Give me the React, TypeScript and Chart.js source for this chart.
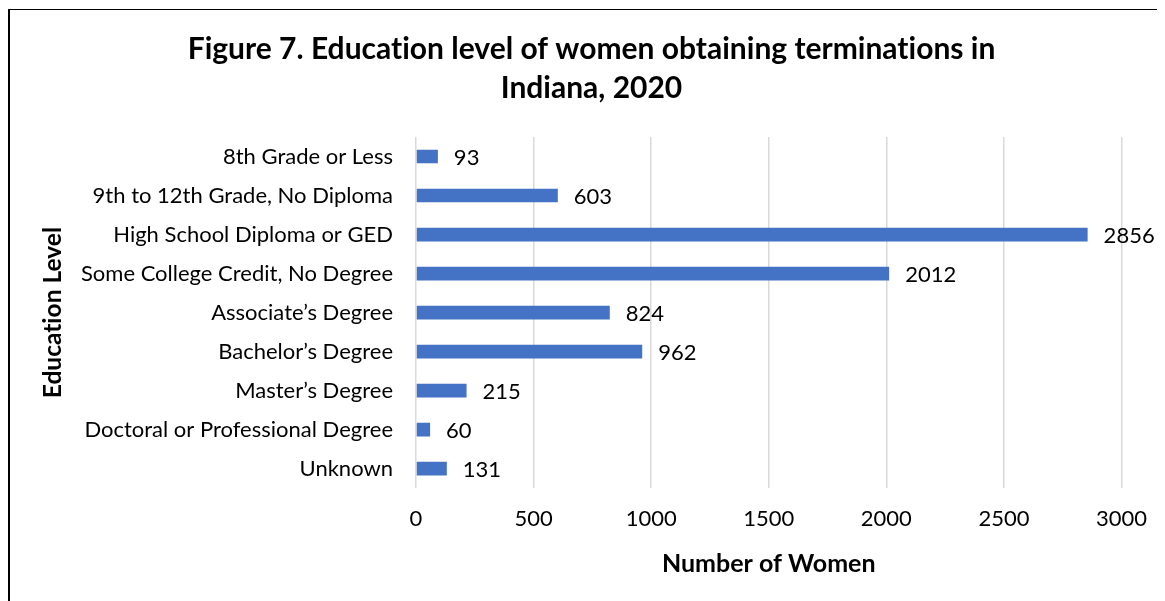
import React, { useEffect, useRef } from "react";
import { Chart, registerables } from "chart.js";

Chart.register(...registerables);

const categories = [
  "8th Grade or Less",
  "9th to 12th Grade, No Diploma",
  "High School Diploma or GED",
  "Some College Credit, No Degree",
  "Associate’s Degree",
  "Bachelor’s Degree",
  "Master’s Degree",
  "Doctoral or Professional Degree",
  "Unknown",
];
const womenCounts = [93, 603, 2856, 2012, 824, 962, 215, 60, 131];
const titleLines = [
  "Figure 7. Education level of women obtaining terminations in",
  "Indiana, 2020",
];
const xAxisTitle = "Number of Women";
const yAxisTitle = "Education Level";

const FONT = "Lato, 'Open Sans', sans-serif";

const noLigatures = {
  id: "noLigatures",
  beforeDraw(chart: any) {
    const ctx = chart.ctx as any;
    ctx.textRendering = "optimizeSpeed";
  },
};

const valueLabels = {
  id: "valueLabels",
  afterDatasetsDraw(chart: any) {
    const ctx = chart.ctx;
    const meta = chart.getDatasetMeta(0);
    ctx.save();
    ctx.font = `22px ${FONT}`;
    ctx.fillStyle = "#000";
    ctx.textAlign = "left";
    ctx.textBaseline = "middle";
    meta.data.forEach((bar: any, i: number) => {
      const v = chart.data.datasets[0].data[i];
      ctx.fillText(String(v), bar.x + 16, bar.y + 1);
    });
    ctx.restore();
  },
};

export default function App() {
  const ref = useRef<HTMLCanvasElement | null>(null);
  useEffect(() => {
    if (!ref.current) return;
    const chart = new Chart(ref.current, {
      type: "bar",
      data: {
        labels: categories,
        datasets: [
          {
            data: womenCounts,
            backgroundColor: "#4472C4",
            borderWidth: 0,
            barPercentage: 0.35,
            categoryPercentage: 1,
          },
        ],
      },
      options: {
        indexAxis: "y",
        responsive: false,
        animation: false,
        layout: { padding: { left: 8, right: 0, top: 0, bottom: 0 } },
        plugins: {
          legend: { display: false },
          tooltip: { enabled: false },
          title: {
            display: true,
            text: titleLines,
            color: "#000",
            font: { family: FONT, size: 30, weight: "bold", lineHeight: 39 / 30 },
            padding: { top: 20, bottom: 29 },
          },
        },
        scales: {
          x: {
            min: 0,
            max: 3000,
            ticks: {
              stepSize: 500,
              color: "#000",
              font: { family: FONT, size: 22 },
              padding: 18,
              callback: (v: any) => String(v),
            },
            grid: { color: "#d9d9d9", lineWidth: 1.5, drawTicks: false },
            border: { display: false },
            title: {
              display: true,
              text: xAxisTitle,
              color: "#000",
              font: { family: FONT, size: 25, weight: "bold", lineHeight: 1.2 },
              padding: { top: 0, bottom: 22 },
            },
            afterFit(scale: any) {
              scale.height = 112.8;
            },
          },
          y: {
            ticks: {
              color: "#000",
              font: { family: FONT, size: 22 },
              padding: 23,
            },
            grid: { display: false, drawTicks: false },
            border: { display: false },
            title: {
              display: true,
              text: yAxisTitle,
              color: "#000",
              font: { family: FONT, size: 24.5, weight: "bold", lineHeight: 1.2 },
              padding: { top: 20, bottom: 0 },
            },
            afterFit(scale: any) {
              scale.width = 398;
            },
          },
        },
      },
      plugins: [noLigatures, valueLabels],
    });
    return () => chart.destroy();
  }, []);
  return (
    <div
      style={{
        marginTop: 1,
        width: 1157,
        height: 592,
        borderLeft: "2px solid #000",
        borderTop: "1px solid #000",
        overflow: "hidden",
        background: "#fff",
      }}
    >
      <canvas ref={ref} width={1155} height={591} style={{ display: "block" }} />
    </div>
  );
}
